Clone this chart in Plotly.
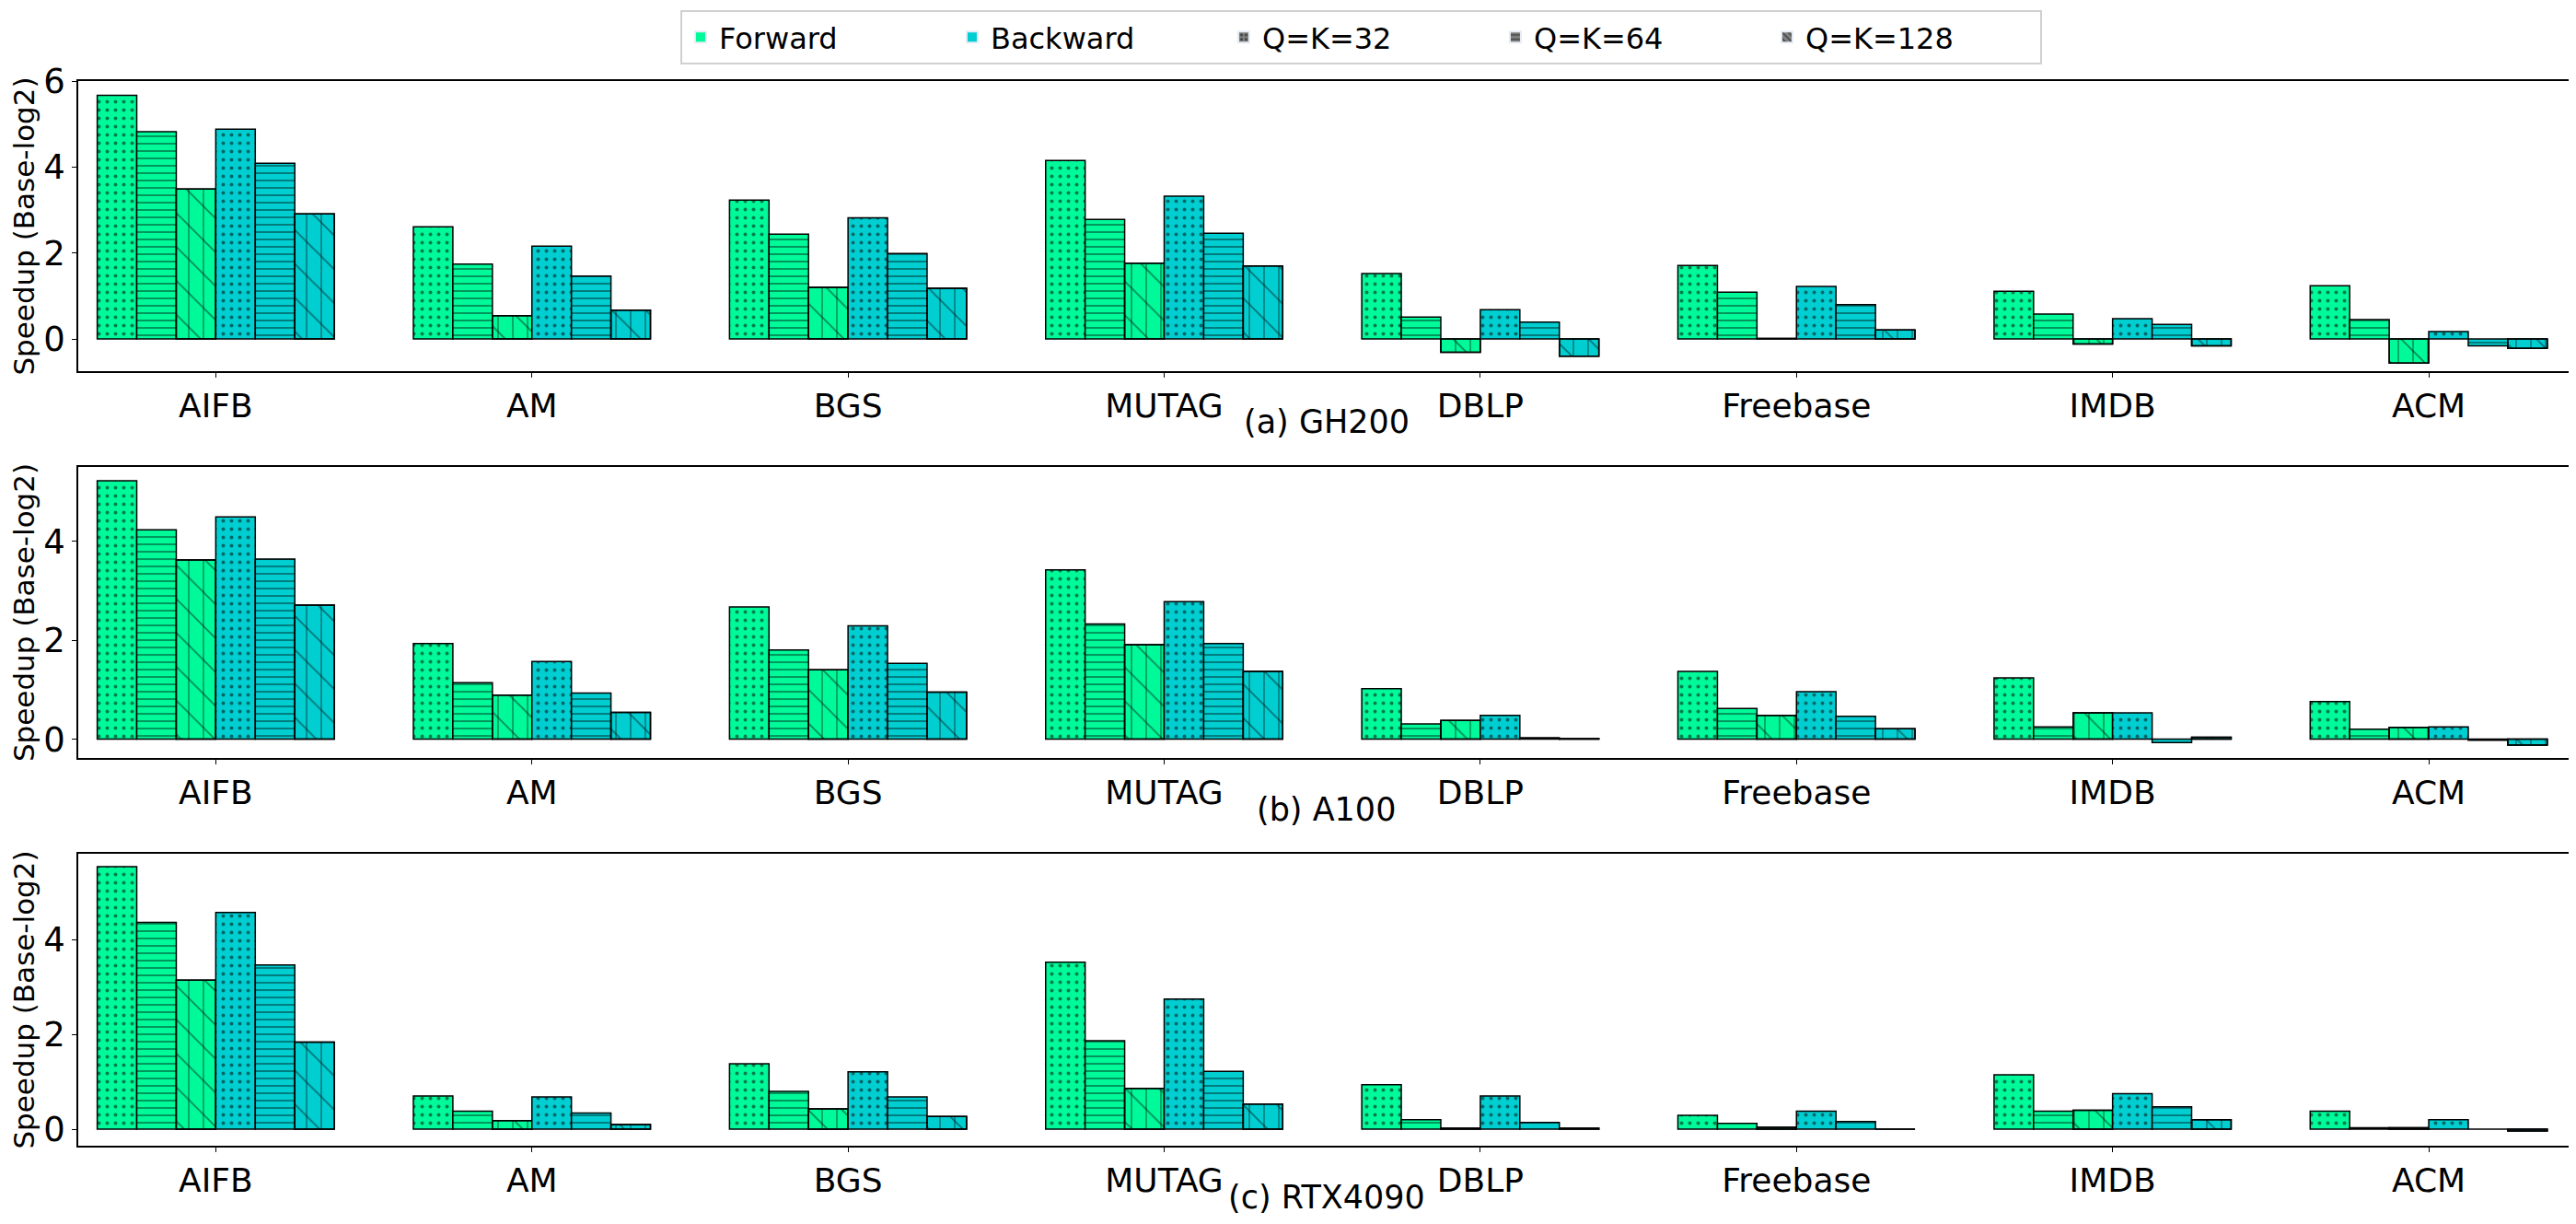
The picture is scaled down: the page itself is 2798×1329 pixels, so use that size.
import plotly.graph_objects as go
from plotly.subplots import make_subplots

# Data (Speedup, base-log2)
datasets = ["AIFB", "AM", "BGS", "MUTAG", "DBLP", "Freebase", "IMDB", "ACM"]
gpus = ["(a) GH200", "(b) A100", "(c) RTX4090"]
qk_sizes = ["Q=K=32", "Q=K=64", "Q=K=128"]

gh200_fwd_32 = [5.67, 2.61, 3.23, 4.15, 1.52, 1.71, 1.11, 1.24]
gh200_fwd_64 = [4.82, 1.74, 2.44, 2.78, 0.51, 1.09, 0.58, 0.45]
gh200_fwd_128 = [3.49, 0.54, 1.20, 1.76, -0.31, 0.01, -0.12, -0.56]
gh200_bwd_32 = [4.88, 2.16, 2.82, 3.32, 0.68, 1.22, 0.47, 0.17]
gh200_bwd_64 = [4.09, 1.46, 1.99, 2.46, 0.39, 0.80, 0.34, -0.16]
gh200_bwd_128 = [2.91, 0.67, 1.18, 1.70, -0.40, 0.21, -0.16, -0.22]

a100_fwd_32 = [5.22, 1.93, 2.67, 3.42, 1.02, 1.37, 1.24, 0.76]
a100_fwd_64 = [4.23, 1.14, 1.80, 2.33, 0.31, 0.62, 0.25, 0.20]
a100_fwd_128 = [3.62, 0.89, 1.40, 1.91, 0.38, 0.48, 0.53, 0.24]
a100_bwd_32 = [4.49, 1.57, 2.29, 2.78, 0.48, 0.96, 0.53, 0.25]
a100_bwd_64 = [3.64, 0.93, 1.53, 1.93, 0.03, 0.46, -0.07, -0.02]
a100_bwd_128 = [2.71, 0.54, 0.95, 1.37, 0.01, 0.21, 0.04, -0.12]

rtx_fwd_32 = [5.55, 0.70, 1.38, 3.53, 0.94, 0.29, 1.15, 0.38]
rtx_fwd_64 = [4.37, 0.38, 0.80, 1.87, 0.20, 0.12, 0.38, 0.03]
rtx_fwd_128 = [3.15, 0.18, 0.43, 0.86, 0.02, 0.04, 0.40, 0.03]
rtx_bwd_32 = [4.58, 0.68, 1.21, 2.75, 0.70, 0.38, 0.75, 0.20]
rtx_bwd_64 = [3.47, 0.34, 0.68, 1.22, 0.14, 0.16, 0.47, 0.00]
rtx_bwd_128 = [1.84, 0.10, 0.27, 0.53, 0.02, 0.00, 0.20, -0.04]

panels = [
    [gh200_fwd_32, gh200_fwd_64, gh200_fwd_128, gh200_bwd_32, gh200_bwd_64, gh200_bwd_128],
    [a100_fwd_32, a100_fwd_64, a100_fwd_128, a100_bwd_32, a100_bwd_64, a100_bwd_128],
    [rtx_fwd_32, rtx_fwd_64, rtx_fwd_128, rtx_bwd_32, rtx_bwd_64, rtx_bwd_128],
]
y_ranges = [[-0.75, 6.0], [-0.38, 5.5], [-0.35, 5.82]]

FWD = "#00FA9A"
BWD = "#00CED1"
FONT = "DejaVu Sans"
shapes = [".", "-", "\\"]
sizes = [9, 8, 26]
solid = [0.15, 0.2, 0.06]
bar_w = 0.125

fig = make_subplots(rows=3, cols=1)

for r, series in enumerate(panels):
    for k, vals in enumerate(series):
        color = FWD if k < 3 else BWD
        q = k % 3
        off = -0.375 + k * bar_w
        fig.add_trace(go.Bar(
            x=datasets, y=vals, width=bar_w, offset=off,
            marker=dict(color=color, line=dict(color="black", width=1.5),
                        pattern=dict(shape=shapes[q], fgcolor="black", size=sizes[q],
                                     solidity=solid[q])),
            showlegend=False,
        ), row=r + 1, col=1)
        if q == 2:
            # extra vertical hatch on top of the diagonal one
            fig.add_trace(go.Bar(
                x=datasets, y=vals, width=bar_w, offset=off,
                marker=dict(color="rgba(0,0,0,0)", line=dict(color="black", width=1.5),
                            pattern=dict(shape="|", fgcolor="black", size=16,
                                         solidity=0.08, bgcolor="rgba(0,0,0,0)")),
                showlegend=False, hoverinfo="skip",
            ), row=r + 1, col=1)

# legend entries
fig.add_trace(go.Bar(x=[None], y=[None], name="Forward", marker_color=FWD), row=1, col=1)
fig.add_trace(go.Bar(x=[None], y=[None], name="Backward", marker_color=BWD), row=1, col=1)
for q, name in enumerate(qk_sizes):
    fig.add_trace(go.Bar(
        x=[None], y=[None], name=name,
        marker=dict(color="#808080",
                    pattern=dict(shape=shapes[q], fgcolor="black", size=6, solidity=0.3)),
    ), row=1, col=1)

# panel placement (paper coords)
domains = [[0.7275, 1.0], [0.3642, 0.6375], [0.0, 0.2742]]

for r in range(3):
    fig.update_xaxes(
        type="category", range=[-0.435, 7.46], automargin=False,
        showline=True, mirror=True, linecolor="black", linewidth=1.5,
        ticks="outside", ticklen=5, tickcolor="black", showgrid=False,
        tickfont=dict(family=FONT, size=36, color="black"),
        row=r + 1, col=1,
    )
    fig.update_yaxes(
        range=y_ranges[r], dtick=2, domain=domains[r], automargin=False,
        showline=True, mirror=True, linecolor="black", linewidth=1.5,
        ticks="outside", ticklen=5, tickcolor="black", showgrid=False, zeroline=False,
        tickfont=dict(family=FONT, size=37, color="black"),
        title=dict(text="Speedup (Base-log2)", font=dict(family=FONT, size=31, color="black"),
                   standoff=4),
        row=r + 1, col=1,
    )
    yname = "y" if r == 0 else f"y{r + 1}"
    fig.add_annotation(
        text=gpus[r], x=0.5, xref="paper", y=-0.176, yref=f"{yname} domain",
        xanchor="center", yanchor="middle", showarrow=False,
        font=dict(family=FONT, size=35, color="black"),
    )

# the page puts the figure 8px down, so it is 8px shorter than the window
fig.update_layout(
    width=2798, height=1321,
    barmode="overlay",
    plot_bgcolor="white", paper_bgcolor="white",
    margin=dict(l=77, r=10, t=80, b=85, autoexpand=False),
    font=dict(family=FONT, color="black"),
    legend=dict(
        orientation="h", x=0.514, xanchor="center", y=1.0666, yanchor="top",
        font=dict(family=FONT, size=32, color="black"),
        bordercolor="#d0d0d0", borderwidth=2, bgcolor="white",
        entrywidth=250, entrywidthmode="pixels", itemsizing="constant",
    ),
)

fig.write_html("out.html")
